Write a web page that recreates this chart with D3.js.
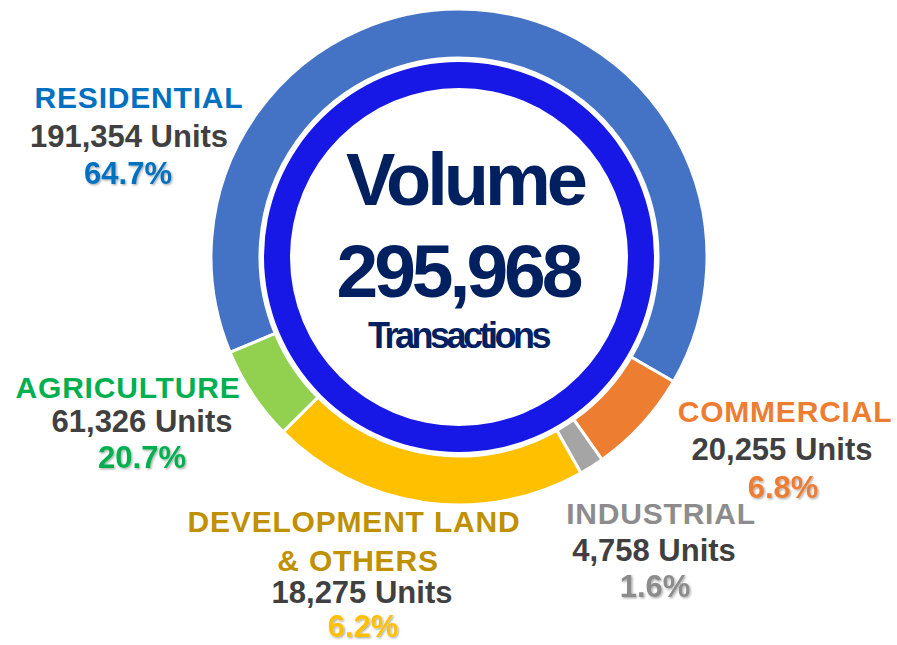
<!DOCTYPE html>
<html>
<head>
<meta charset="utf-8">
<script src="https://cdn.jsdelivr.net/npm/d3@7"></script>
<style>
  body { margin: 0; background: #fff; }
  svg text { font-family: "Liberation Sans", Arial, sans-serif; font-weight: bold; }
</style>
</head>
<body>
<div id="chart"></div>
<script>
// data, in the order the ring is drawn (clockwise)
var categories = ["RESIDENTIAL", "COMMERCIAL", "INDUSTRIAL", "AGRICULTURE", "DEVELOPMENT LAND|& OTHERS"];
var units = [191354, 20255, 4758, 61326, 18275];
var sliceColors = ["#4472C4", "#ED7D31", "#A5A5A5", "#FFC000", "#92D050"];
var labelColors = ["#0070C0", "#ED7D31", "#8C8C8C", "#00B050", "#BF9000"];
var pctColors = ["#0070C0", "#ED7D31", "#8C8C8C", "#00B050", "#FFC000"];
var centerTitle = "Volume";
var centerSub = "Transactions";

// label layout: name lines anchor, units line, percent line  [x, baseline]
var labelPos = [
  { name: [139, 108], units: [129, 147], pct: [128, 184] },
  { name: [785, 422], units: [782, 460], pct: [783, 498] },
  { name: [661, 524], units: [654, 561], pct: [655, 597] },
  { name: [128, 398], units: [142, 432], pct: [142, 468] },
  { name: [354, 532], units: [362, 603], pct: [363, 637] }
];

var width = 897, height = 645;
var cx = 459, cy = 257;

var svg = d3.select("#chart").append("svg")
  .attr("width", width)
  .attr("height", height);

var defs = svg.append("defs");
var shadow = defs.append("filter").attr("id", "shadow")
  .attr("x", "-10%").attr("y", "-10%").attr("width", "130%").attr("height", "130%");
shadow.append("feDropShadow")
  .attr("dx", 1.2).attr("dy", 1.2).attr("stdDeviation", 0.8)
  .attr("flood-color", "#000").attr("flood-opacity", 0.35);

var total = d3.sum(units);
var fmt = d3.format(",");
var pctFmt = d3.format(".1%");

var g = svg.append("g").attr("transform", "translate(" + cx + "," + cy + ")");

// outer ring
var start = -112.6 * Math.PI / 180;
var pie = d3.pie().sort(null).startAngle(start).endAngle(start + 2 * Math.PI);
var arc = d3.arc().innerRadius(199).outerRadius(248);

g.selectAll("path.slice")
  .data(pie(units))
  .enter()
  .append("path")
  .attr("class", "slice")
  .attr("d", arc)
  .attr("fill", (d, i) => sliceColors[i])
  .attr("stroke", "#fff")
  .attr("stroke-width", 3);

// inner dark ring
g.append("path")
  .attr("d", d3.arc().innerRadius(169).outerRadius(195).startAngle(0).endAngle(2 * Math.PI)())
  .attr("fill", "#1717E6");

// center text
svg.append("text")
  .attr("x", 465).attr("y", 205)
  .attr("text-anchor", "middle")
  .attr("font-size", 74)
  .attr("letter-spacing", -4)
  .attr("fill", "#002060")
  .text(centerTitle);

svg.append("text")
  .attr("x", 458).attr("y", 297)
  .attr("text-anchor", "middle")
  .attr("font-size", 75)
  .attr("letter-spacing", -4)
  .attr("fill", "#002060")
  .text(fmt(total));

svg.append("text")
  .attr("x", 458).attr("y", 348)
  .attr("text-anchor", "middle")
  .attr("font-size", 36)
  .attr("letter-spacing", -3.5)
  .attr("fill", "#002060")
  .text(centerSub);

// labels
categories.forEach(function(c, i) {
  var p = labelPos[i];
  var lines = c.split("|");
  lines.forEach(function(line, j) {
    svg.append("text")
      .attr("x", p.name[0] + (j ? 4 : 0))
      .attr("y", p.name[1] + j * 39)
      .attr("text-anchor", "middle")
      .attr("font-size", 30)
      .attr("letter-spacing", 0.8)
      .attr("fill", labelColors[i])
      .text(line);
  });

  svg.append("text")
    .attr("x", p.units[0]).attr("y", p.units[1])
    .attr("text-anchor", "middle")
    .attr("font-size", 31)
    .attr("fill", "#404040")
    .text(fmt(units[i]) + " Units");

  svg.append("text")
    .attr("x", p.pct[0]).attr("y", p.pct[1])
    .attr("text-anchor", "middle")
    .attr("font-size", 31)
    .attr("fill", pctColors[i])
    .attr("filter", "url(#shadow)")
    .text(pctFmt(units[i] / total));
});
</script>
</body>
</html>
